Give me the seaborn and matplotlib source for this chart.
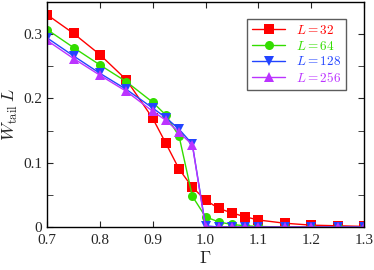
import numpy as np
import pandas as pd
import matplotlib
matplotlib.use("Agg")
import matplotlib.pyplot as plt
import seaborn as sns

gamma = [0.7, 0.75, 0.8, 0.85, 0.9, 0.925, 0.95, 0.975, 1.0, 1.025, 1.05,
         1.075, 1.1, 1.15, 1.2, 1.25, 1.3]
w_32 = [0.330, 0.301, 0.268, 0.229, 0.169, 0.130, 0.090, 0.062, 0.042, 0.029,
        0.022, 0.016, 0.011, 0.006, 0.003, 0.002, 0.001]
w_64 = [0.307, 0.279, 0.252, 0.226, 0.194, 0.174, 0.141, 0.048, 0.016, 0.008,
        0.004, 0.002, 0.001, 0.0, 0.0, 0.0, 0.0]
w_128 = [0.294, 0.266, 0.239, 0.214, 0.185, 0.170, 0.152, 0.129, 0.002, 0.0,
         0.0, 0.0, 0.0, 0.0, 0.0, 0.0, 0.0]
w_256 = [0.290, 0.262, 0.236, 0.211, 0.180, 0.166, 0.147, 0.128, 0.0, 0.0,
         0.0, 0.0, 0.0, 0.0, 0.0, 0.0, 0.0]
sizes = ["32", "64", "128", "256"]

frames = []
for L, w in zip(sizes, [w_32, w_64, w_128, w_256]):
    frames.append(pd.DataFrame({"gamma": gamma, "w": w, "L": L}))
df = pd.concat(frames)

sns.set_style("ticks")
plt.rcParams["font.family"] = ["Liberation Serif", "DejaVu Serif"]
plt.rcParams["mathtext.fontset"] = "cm"

colors = ["#ff0000", "#33dd00", "#2244ff", "#bb33ff"]
markers = ["s", "o", "v", "^"]

fig = plt.figure(figsize=(3.74, 2.70), dpi=100)
ax = fig.add_axes([0.126, 0.159, 0.847, 0.834])

for L, c, m in zip(sizes, colors, markers):
    sub = df[df["L"] == L]
    sns.lineplot(data=sub, x="gamma", y="w", ax=ax, color=c, marker=m,
                 markersize=6.5, markeredgewidth=0, linewidth=1,
                 label=r"$L = %s$" % L)

ax.set_xlim(0.7, 1.3)
ax.set_ylim(0, 0.35)
ax.set_xticks(np.arange(0.7, 1.31, 0.1))
ax.set_xticklabels(["0.7", "0.8", "0.9", "1.0", "1.1", "1.2", "1.3"])
ax.set_yticks([0, 0.1, 0.2, 0.3])
ax.set_yticklabels(["0", "0.1", "0.2", "0.3"])
ax.set_yticks(np.arange(0, 0.35, 0.05), minor=True)
ax.tick_params(direction="in", top=True, right=True, labelsize=11, length=4)
ax.tick_params(axis="x", pad=5)
ax.tick_params(which="minor", direction="in", right=True, length=4)
ax.set_xlabel(r"$\Gamma$", fontsize=13, labelpad=2)
ax.set_ylabel(r"$W_{\rm tail}\, L$", fontsize=13, labelpad=2)
for s in ax.spines.values():
    s.set_linewidth(1.0)
    s.set_color("black")

leg = ax.legend(loc="upper right", bbox_to_anchor=(0.965, 0.955), fontsize=9.5,
                frameon=True, fancybox=False, edgecolor="#333333",
                handlelength=2.5, borderpad=0.4, labelspacing=0.2)
for t, c in zip(leg.get_texts(), colors):
    t.set_color(c)

fig.savefig("out.png", dpi=100)
